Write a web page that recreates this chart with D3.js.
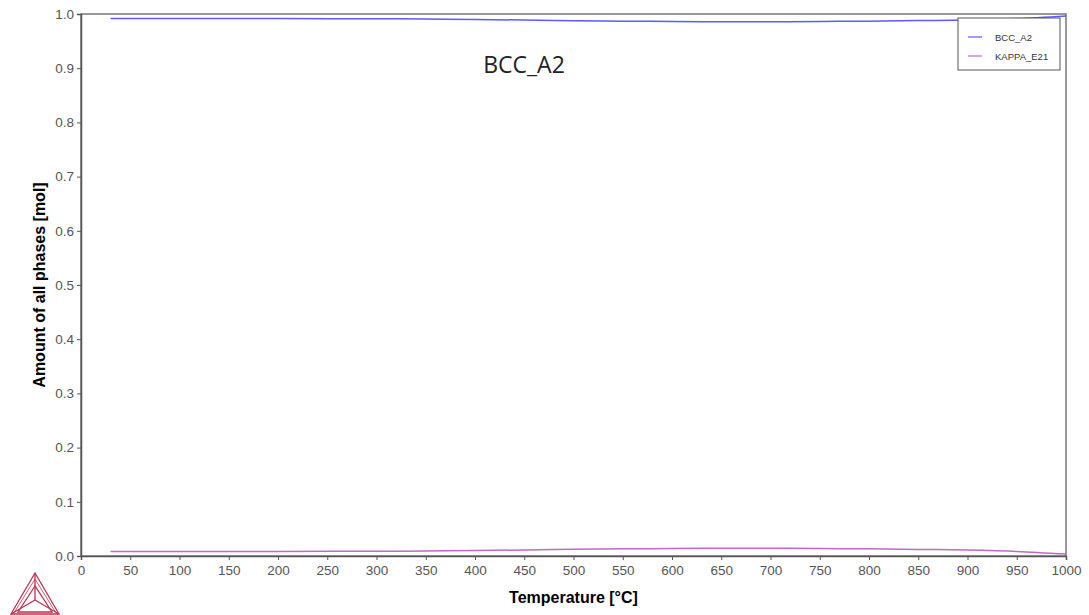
<!DOCTYPE html>
<html>
<head>
<meta charset="utf-8">
<script src="https://cdn.jsdelivr.net/npm/d3@7"></script>
<style>
  body { margin: 0; background: #fff; }
  svg { display: block; }
</style>
</head>
<body>
<div id="chart"></div>
<script>
// temperatures (°C) where the phase amounts are read
const temps = [30, 100, 200, 300, 350, 400, 450, 500, 550, 600, 650, 700, 750, 800, 850, 900, 950, 1000];
// KAPPA_E21 amount (mol)
const kappa = [0.0085, 0.0085, 0.0085, 0.0088, 0.0093, 0.0100, 0.0112, 0.0123, 0.0132, 0.0138, 0.0142, 0.0142, 0.0138, 0.0132, 0.0122, 0.0110, 0.0085, 0.0035];
// BCC_A2 amount (mol)
const bcc = [0.9915, 0.9915, 0.9915, 0.9912, 0.9907, 0.9900, 0.9888, 0.9877, 0.9868, 0.9862, 0.9858, 0.9858, 0.9862, 0.9868, 0.9878, 0.9890, 0.9915, 0.9965];

const xTicks = d3.range(0, 1001, 50);
const yTicks = d3.range(0, 1.01, 0.1);

const series = [
  { name: "BCC_A2", values: bcc, color: "#5a5aff" },
  { name: "KAPPA_E21", values: kappa, color: "#c069c8" }
];

const width = 1089, height = 615;
const margin = { top: 14, right: 23, bottom: 59, left: 81 };

const svg = d3.select("#chart").append("svg")
  .attr("width", width)
  .attr("height", height);

const x = d3.scaleLinear().domain([0, 1000]).range([margin.left, width - margin.right]);
const y = d3.scaleLinear().domain([0, 1]).range([height - margin.bottom, margin.top]);

// plot frame
svg.append("rect")
  .attr("x", x(0))
  .attr("y", y(1))
  .attr("width", x(1000) - x(0))
  .attr("height", y(0) - y(1))
  .attr("fill", "none")
  .attr("stroke", "#555")
  .attr("stroke-width", 1.2);

// axes
const xAxis = svg.append("g")
  .attr("transform", `translate(0,${y(0)})`)
  .call(d3.axisBottom(x).tickValues(xTicks).tickSize(4).tickPadding(5).tickFormat(d3.format("d")));

const yAxis = svg.append("g")
  .attr("transform", `translate(${x(0)},0)`)
  .call(d3.axisLeft(y).tickValues(yTicks).tickSize(4).tickPadding(3).tickFormat(d3.format(".1f")));

[xAxis, yAxis].forEach(g => {
  g.select(".domain").attr("stroke", "#555").attr("stroke-width", 1.5);
  g.selectAll(".tick line").attr("stroke", "#555");
  g.selectAll(".tick text")
    .attr("fill", "#555")
    .style("font-family", "'Liberation Sans', Arial, sans-serif")
    .style("font-size", "13.5px");
});

// axis titles
svg.append("text")
  .attr("x", (x(0) + x(1000)) / 2)
  .attr("y", 603)
  .attr("text-anchor", "middle")
  .style("font-family", "'Liberation Sans', Arial, sans-serif")
  .style("font-size", "16px")
  .style("font-weight", "bold")
  .text("Temperature [°C]");

svg.append("text")
  .attr("transform", `translate(45,${(y(0) + y(1)) / 2}) rotate(-90)`)
  .attr("text-anchor", "middle")
  .style("font-family", "'Liberation Sans', Arial, sans-serif")
  .style("font-size", "16px")
  .style("font-weight", "bold")
  .text("Amount of all phases [mol]");

// phase curves
const line = d3.line()
  .x((d, i) => x(temps[i]))
  .y(d => y(d))
  .curve(d3.curveMonotoneX);

series.forEach(s => {
  svg.append("path")
    .datum(s.values)
    .attr("d", line)
    .attr("fill", "none")
    .attr("stroke", s.color)
    .attr("stroke-width", 1.5);
});

// label inside plot
svg.append("text")
  .attr("x", 524)
  .attr("y", 73)
  .attr("text-anchor", "middle")
  .style("font-family", "'Open Sans', sans-serif")
  .style("font-size", "23px")
  .attr("fill", "#222")
  .text("BCC_A2");

// legend
const legend = svg.append("g").attr("transform", "translate(958,18)");
legend.append("rect")
  .attr("width", 102)
  .attr("height", 52)
  .attr("fill", "#fff")
  .attr("stroke", "#555");
series.forEach((s, i) => {
  const row = legend.append("g").attr("transform", `translate(0,${19 + i * 19})`);
  row.append("line")
    .attr("x1", 10).attr("x2", 24)
    .attr("stroke", s.color).attr("stroke-width", 1.2);
  row.append("text")
    .attr("x", 37).attr("y", 3.5)
    .style("font-family", "'Liberation Sans', Arial, sans-serif")
    .style("font-size", "9.5px")
    .attr("fill", "#333")
    .text(s.name);
});

// logo in bottom left corner
const logo = svg.append("g").attr("stroke", "#c0304f").attr("fill", "none").attr("stroke-width", 1.3);
const A = [35, 573], B = [11, 614], C = [59, 614], O = [35, 600];
logo.append("path").attr("d", `M${A}L${B}L${C}Z`);
logo.append("path").attr("d", `M${A}L${O}M${B}L${O}M${C}L${O}`);
logo.append("path").attr("d", `M35,586L18,612L52,612Z`);
logo.append("path").attr("d", `M35,579L14,613M35,579L56,613`).attr("stroke-width", 0.8);
</script>
</body>
</html>
